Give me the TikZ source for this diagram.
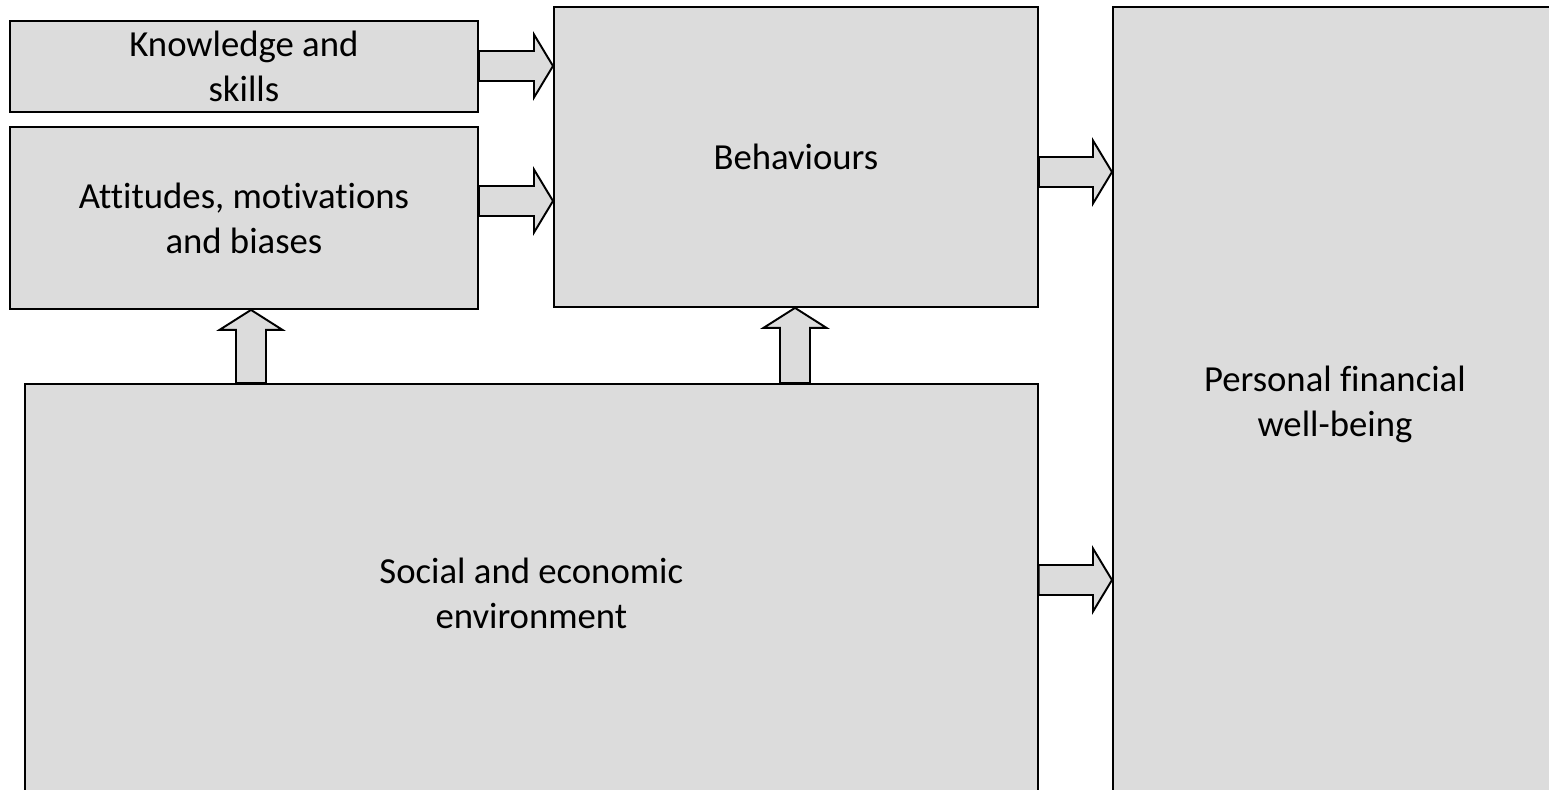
\documentclass[tikz,border=0pt]{standalone}
\usepackage{fontspec}
\setmainfont{Carlito}[Ligatures=CommonOff]
\usepackage{tikz}
\usetikzlibrary{calc}
\definecolor{boxgray}{RGB}{220,220,220}
\tikzset{
  block/.style={draw, fill=boxgray, line width=1.1pt, align=center, anchor=north west, inner sep=0pt, font=\fontsize{20.9}{25.6}\selectfont},
  fat/.style={draw, fill=boxgray, line width=1.1pt, line join=miter},
}
% block arrow to the right: from node, to node, y
\newcommand{\fatright}[3]{%
  \path (0,#3) coordinate (fy);
  \draw[fat] ($(#1.east |- fy)+(0,-15)$) -- ($(#2.west |- fy)+(-19,-15)$) -- ++(0,-16.5)
    -- (#2.west |- fy) -- ++(-19,31.5) -- ++(0,-16.5) -- ($(#1.east |- fy)+(0,15)$) -- cycle;}
% block arrow upwards: from node, to node, x
\newcommand{\fatup}[3]{%
  \path (#3,0) coordinate (fx);
  \draw[fat] ($(#1.north -| fx)+(-15,0)$) -- ($(#2.south -| fx)+(-15,20)$) -- ++(-16.5,0)
    -- (#2.south -| fx) -- ++(31.5,20) -- ++(-16.5,0) -- ($(#1.north -| fx)+(15,0)$) -- cycle;}

\begin{document}
\begin{tikzpicture}[x=0.02cm, y=-0.02cm]
  \useasboundingbox (0,0) rectangle (1549,789);
  \clip (0,0) rectangle (1549,789);
  \node[block, minimum width=9.36cm, minimum height=1.82cm] (know) at (9,20) {Knowledge and\\ skills};
  \node[block, minimum width=9.36cm, minimum height=3.64cm] (att) at (9,126) {Attitudes, motivations\\ and biases};
  \node[block, minimum width=9.68cm, minimum height=6.00cm] (beh) at (553,6) {Behaviours};
  \node[block, minimum width=20.26cm, minimum height=8.36cm] (soc) at (24,383) {Social and economic\\ environment};
  \node[block, minimum width=8.88cm, minimum height=15.9cm] (pers) at (1112,6) {Personal financial\\ well-being};
  \fatright{know}{beh}{66}
  \fatright{att}{beh}{201}
  \fatright{beh}{pers}{172}
  \fatright{soc}{pers}{580}
  \fatup{soc}{att}{251}
  \fatup{soc}{beh}{795}
\end{tikzpicture}
\end{document}
